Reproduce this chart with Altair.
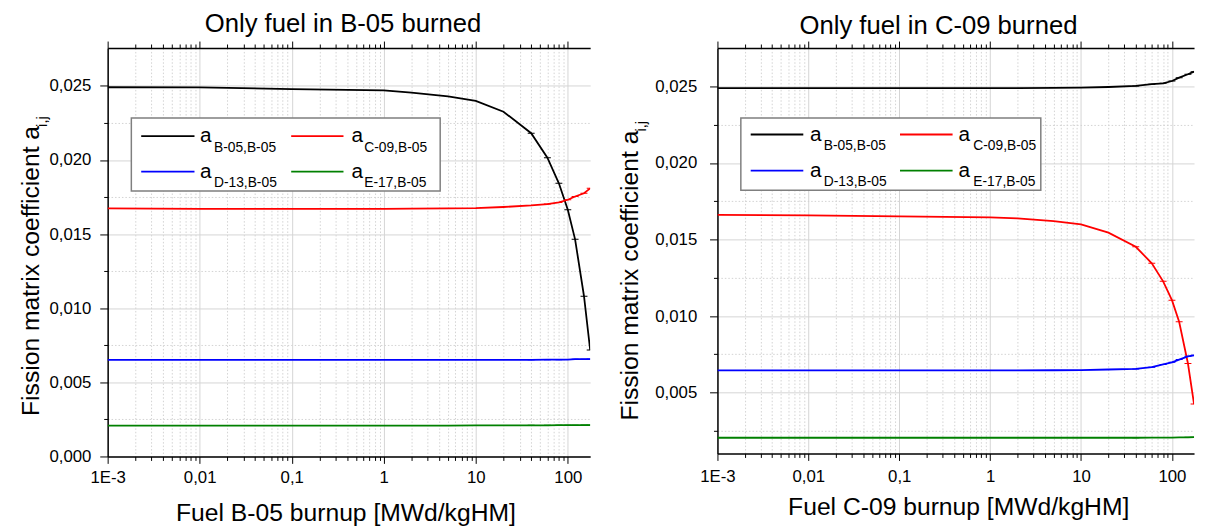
import altair as alt
import pandas as pd

# ---------------- data ----------------
burnup = [0.001, 0.01, 0.1, 1, 2, 5, 10, 20, 40, 60, 80, 100, 120, 150, 175]

series_names = ["B-05,B-05", "C-09,B-05", "D-13,B-05", "E-17,B-05"]
series_colors = ["#000000", "#ff0000", "#0000ff", "#008000"]

# Panel 1: only fuel in B-05 burned
p1_b05 = [0.02491, 0.02490, 0.02478, 0.02470, 0.02455, 0.02430, 0.02399, 0.02326,
          0.02181, 0.02016, 0.01843, 0.01665, 0.01465, 0.01081, 0.00719]
p1_c09 = [0.01674, 0.01671, 0.01670, 0.01671, 0.01672, 0.01674, 0.01676, 0.01683,
          0.01694, 0.01703, 0.01714, 0.01732, 0.01754, 0.01776, 0.01809]
p1_d13 = [0.00652, 0.00652, 0.00652, 0.00652, 0.00652, 0.00652, 0.00652, 0.00652,
          0.00652, 0.00653, 0.00653, 0.00654, 0.00656, 0.00656, 0.00657]
p1_e17 = [0.00208, 0.00208, 0.00208, 0.00208, 0.00208, 0.00208, 0.00210, 0.00210,
          0.00210, 0.00210, 0.00211, 0.00211, 0.00211, 0.00212, 0.00212]

# Panel 2: only fuel in C-09 burned
p2_b05 = [0.02490, 0.02490, 0.02490, 0.02490, 0.02490, 0.02491, 0.02493, 0.02497,
          0.02504, 0.02515, 0.02521, 0.02536, 0.02558, 0.02580, 0.02597]
p2_c09 = [0.01662, 0.01658, 0.01651, 0.01645, 0.01638, 0.01620, 0.01599, 0.01545,
          0.01453, 0.01345, 0.01227, 0.01104, 0.00963, 0.00690, 0.00425]
p2_d13 = [0.00645, 0.00645, 0.00645, 0.00645, 0.00645, 0.00646, 0.00647, 0.00651,
          0.00655, 0.00666, 0.00684, 0.00698, 0.00716, 0.00737, 0.00744]
p2_e17 = [0.00205, 0.00205, 0.00205, 0.00205, 0.00205, 0.00205, 0.00205, 0.00205,
          0.00205, 0.00206, 0.00206, 0.00206, 0.00207, 0.00208, 0.00209]

x_major = [0.001, 0.01, 0.1, 1, 10, 100]
x_major_labels = ["1E-3", "0,01", "0,1", "1", "10", "100"]
x_minor_mult = [2, 3, 4, 5, 6, 7, 8, 9]
X_MIN, X_MAX = 0.001, 175

y_ticks_left = [0.0, 0.0025, 0.005, 0.0075, 0.01, 0.0125, 0.015, 0.0175, 0.02, 0.0225, 0.025]
y_ticks_right = [0.0025, 0.005, 0.0075, 0.01, 0.0125, 0.015, 0.0175, 0.02, 0.0225, 0.025]

titles = ["Only fuel in B-05 burned", "Only fuel in C-09 burned"]
x_titles = ["Fuel B-05 burnup [MWd/kgHM]", "Fuel C-09 burnup [MWd/kgHM]"]
y_title_main = "Fission matrix coefficient a"
y_title_sub = "i,j"

# ---------------- helpers ----------------
FONT = "Liberation Sans"
x_values = []
for d in x_major:
    x_values.append(d)
    for m in x_minor_mult:
        v = round(d * m, 6)
        if v <= X_MAX:
            x_values.append(v)

maj_arr = "[" + ",".join(str(v) for v in x_major) + "]"
lab_arr = "[" + ",".join("'" + s + "'" for s in x_major_labels) + "]"
x_is_major = f"indexof({maj_arr}, datum.value) >= 0"
x_label_expr = f"{x_is_major} ? {lab_arr}[indexof({maj_arr}, datum.value)] : ''"
y_is_major = "round(datum.value*10000) % 50 == 0"
y_label_expr = f"{y_is_major} ? replace(format(datum.value, '.3f'), '.', ',') : ''"


def one():
    return pd.DataFrame({"k": [0]})


def panel(idx, series_vals, ydomain, yvals, width, height, g):
    rows = []
    for name, vals in zip(series_names, series_vals):
        for b, v in zip(burnup, vals):
            rows.append({"burnup": b, "value": v, "series": name})
    df = pd.DataFrame(rows)

    xscale = alt.Scale(type="log", domain=[X_MIN, X_MAX], nice=False)
    yscale = alt.Scale(domain=ydomain, nice=False, zero=False)
    color = alt.Color("series:N", scale=alt.Scale(domain=series_names, range=series_colors), legend=None)

    bottom_axis = alt.Axis(
        orient="bottom", values=x_values, labelExpr=x_label_expr,
        tickSize={"condition": {"test": x_is_major, "value": 7}, "value": 4},
        grid=True,
        gridDash={"condition": {"test": x_is_major, "value": []}, "value": [1.5, 2]},
        gridColor={"condition": {"test": x_is_major, "value": "#d4d4d4"}, "value": "#d2d2d2"},
        labelPadding=g["xlabpad"], labelFontSize=17, labelColor="#000000",
        title=x_titles[idx], titleFontSize=25, titleFontWeight="normal", titleColor="#000000",
        titleBaseline="alphabetic", titleY=g["xtitle_y"], titleX=g["xtitle_x"],
        domainColor="#000000", domainWidth=1.5, tickColor="#000000", labelFlush=False,
    )
    top_axis = alt.Axis(
        orient="top", values=x_values, labels=False, grid=False,
        tickSize={"condition": {"test": x_is_major, "value": 7}, "value": 4},
        title=None, domainColor="#000000", domainWidth=1.5, tickColor="#000000",
    )
    left_axis = alt.Axis(
        orient="left", values=yvals, labelExpr=y_label_expr,
        tickSize={"condition": {"test": y_is_major, "value": 8}, "value": 4},
        grid=True,
        gridDash={"condition": {"test": y_is_major, "value": []}, "value": [1.5, 2]},
        gridColor={"condition": {"test": y_is_major, "value": "#d4d4d4"}, "value": "#d2d2d2"},
        labelPadding=g["ylabpad"], labelFontSize=17, labelColor="#000000",
        title=None, domainColor="#000000", domainWidth=1.5, tickColor="#000000", labelFlush=False,
    )

    lines = alt.Chart(df).mark_line(strokeWidth=1.8, clip=True).encode(
        x=alt.X("burnup:Q", scale=xscale, axis=bottom_axis),
        y=alt.Y("value:Q", scale=yscale, axis=left_axis),
        color=color,
    )
    pts = alt.Chart(df).transform_filter("datum.burnup >= 40").mark_tick(
        orient="horizontal", size=7, thickness=1, opacity=1, clip=True
    ).encode(
        x=alt.X("burnup:Q", scale=xscale, axis=None),
        y=alt.Y("value:Q", scale=yscale, axis=None),
        color=color,
    )
    top = alt.Chart(df).mark_point(opacity=0).encode(
        x=alt.X("burnup:Q", scale=xscale, axis=top_axis),
        y=alt.Y("value:Q", scale=yscale, axis=None),
    )

    layers = [lines, pts, top]

    # legend box
    layers.append(alt.Chart(one()).mark_rect(fill="#ffffff", stroke="#7f7f7f", strokeWidth=1.5).encode(
        x=alt.value(g["box"][0]), x2=alt.value(g["box"][2]),
        y=alt.value(g["box"][1]), y2=alt.value(g["box"][3])))
    for i, (name, col) in enumerate(zip(series_names, series_colors)):
        r, c = i // 2, i % 2
        ly = g["rows"][r]
        lx0, lx1 = g["lines"][c]
        layers.append(alt.Chart(one()).mark_rule(color=col, strokeWidth=1.8).encode(
            x=alt.value(lx0), x2=alt.value(lx1), y=alt.value(ly)))
        layers.append(alt.Chart(one()).mark_text(
            text="a", fontSize=21, align="left", baseline="alphabetic", color="#000000").encode(
            x=alt.value(g["ax"][c]), y=alt.value(ly + 6.5)))
        layers.append(alt.Chart(one()).mark_text(
            text=name, fontSize=14, align="left", baseline="alphabetic", color="#000000").encode(
            x=alt.value(g["subx"][c]), y=alt.value(ly + 16)))

    # y title with subscript
    layers.append(alt.Chart(one()).mark_text(
        text=y_title_main, fontSize=25, angle=270, align="right", baseline="alphabetic", color="#000000").encode(
        x=alt.value(g["yt_x"]), y=alt.value(g["yt_y"])))
    layers.append(alt.Chart(one()).mark_text(
        text=y_title_sub, fontSize=15, angle=270, align="left", baseline="alphabetic", color="#000000").encode(
        x=alt.value(g["yt_x"] + 8.5), y=alt.value(g["yt_y"] + 1)))
    # panel title
    layers.append(alt.Chart(one()).mark_text(
        text=titles[idx], fontSize=26, align="center", baseline="alphabetic", color="#000000").encode(
        x=alt.value(g["t_x"]), y=alt.value(g["t_y"])))

    return alt.layer(*layers).resolve_axis(x="independent", y="independent").properties(
        width=width, height=height)


g_left = dict(
    box=(24, 71, 337, 145), rows=(89.3, 125.3), lines=((34, 88), (186, 239)),
    ax=(93.7, 247), subx=(107.7, 260),
    yt_x=-70, yt_y=79, t_x=238.5, t_y=-16,
    xlabpad=6, ylabpad=9, xtitle_y=65, xtitle_x=241,
)
g_right = dict(
    box=(23.7, 71, 327.7, 144.3), rows=(87.7, 124.3), lines=((33.7, 87), (185, 238.3)),
    ax=(93.7, 244.3), subx=(107.7, 259.3),
    yt_x=-81, yt_y=83.7, t_x=224, t_y=-14,
    xlabpad=8, ylabpad=13, xtitle_y=62, xtitle_x=244,
)

left = panel(0, [p1_b05, p1_c09, p1_d13, p1_e17], [0.0, 0.02756], y_ticks_left, 489, 414, g_left)
right = panel(1, [p2_b05, p2_c09, p2_d13, p2_e17], [0.00102, 0.02752], y_ticks_right, 483, 411, g_right)

chart = alt.hconcat(left, right, spacing=25).properties(
    padding={"left": 11, "top": 0, "right": 0, "bottom": 0},
    background="#ffffff",
).configure(font=FONT).configure_view(stroke=None)

chart.save("out.html", embed_options={"renderer": "svg", "actions": False})
